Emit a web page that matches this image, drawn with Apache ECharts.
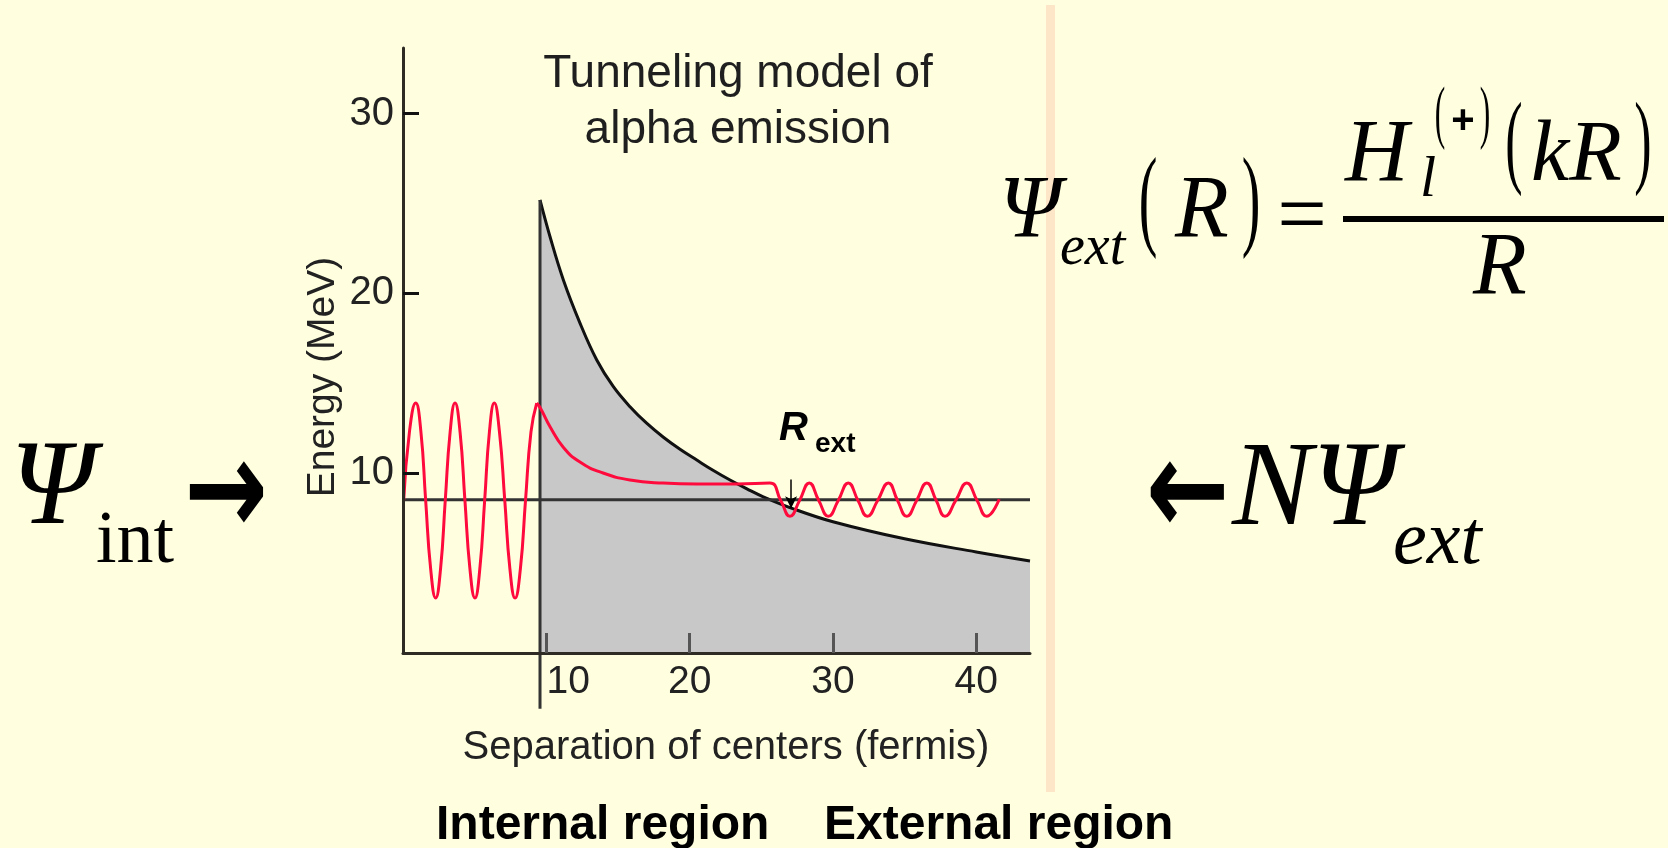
<!DOCTYPE html>
<html>
<head>
<meta charset="utf-8">
<script src="https://cdn.jsdelivr.net/npm/echarts@6/dist/echarts.min.js"></script>
<style>
html,body{margin:0;padding:0;background:#FFFFE0;}
#chart{width:1668px;height:848px;}
</style>
</head>
<body>
<div id="chart"></div>
<script>
// ---- data ----
const xTickValues = [10, 20, 30, 40];
const yTickValues = [10, 20, 30];
const energyLevel = 8.52;          // MeV, horizontal line
const nuclearRadius = 9.56;        // fermis, vertical line
const barrierTop = 25.2;
const rExt = 27.08;                // arrow position
const barrierR = [9.56, 10.26, 11.19, 12.35, 13.52, 14.68, 15.84, 17.0, 18.17, 19.33, 20.5, 21.66, 22.82, 24.0, 25.14, 27.24, 30.0, 35.0, 40.0, 43.75];
const barrierV = [25.2, 23.15, 20.75, 18.35, 16.3, 14.81, 13.7, 12.78, 12.0, 11.33, 10.73, 10.15, 9.62, 9.13, 8.69, 8.02, 7.3, 6.35, 5.62, 5.12];
const internalR = [0.05, 0.45, 0.89, 1.25, 1.58, 1.93, 2.28, 2.62, 2.95, 3.29, 3.63, 3.98, 4.32, 4.67, 5.02, 5.36, 5.7, 6.03, 6.37, 6.73, 7.1, 7.46, 7.82, 8.19, 8.55, 8.93, 9.33];
const internalPsi = [8.5, 12.3, 13.9, 12.3, 8.5, 4.68, 3.06, 4.68, 8.5, 12.3, 13.9, 12.3, 8.5, 4.68, 3.06, 4.68, 8.5, 12.3, 13.9, 12.3, 8.5, 4.68, 3.06, 4.68, 8.5, 12.3, 13.9];
const externalR = [9.33, 9.6, 10.26, 11.17, 12.35, 13.96, 15.84, 18.14, 20.52, 23.3, 25.6, 26.35, 27.0, 27.68, 28.35, 29.0, 29.68, 30.38, 31.07, 31.74, 32.4, 33.13, 33.87, 34.5, 35.15, 35.85, 36.55, 37.2, 37.82, 38.58, 39.34, 40.05, 40.73, 41.6];
const externalPsi = [13.9, 13.6, 12.59, 11.46, 10.62, 10.01, 9.62, 9.45, 9.4, 9.4, 9.45, 8.5, 7.6, 8.5, 9.46, 8.5, 7.6, 8.5, 9.46, 8.5, 7.6, 8.5, 9.46, 8.5, 7.6, 8.5, 9.46, 8.5, 7.6, 8.5, 9.46, 8.5, 7.6, 8.55];

const zip = (a, b) => a.map((v, i) => [v, b[i]]);

const chart = echarts.init(document.getElementById('chart'), null, {renderer: 'canvas'});
const SANS = 'Liberation Sans, Arial, sans-serif';
const SERIF = 'Liberation Serif, Times New Roman, serif';
const RED = '#FF0A3C';

function txt(text, x, y, size, opts) {
  opts = opts || {};
  return {
    type: 'text', x: x, y: y, z: 100,
    scaleX: opts.scaleX || 1, scaleY: opts.scaleY || 1,
    style: {
      text: text, fontSize: size,
      fontFamily: opts.family || SERIF,
      fontStyle: opts.italic ? 'italic' : 'normal',
      fontWeight: opts.bold ? 'bold' : 'normal',
      fill: opts.color || '#000',
      align: opts.align || 'left',
      verticalAlign: 'middle'
    }
  };
}

const option = {
  backgroundColor: '#FFFFE0',
  animation: false,
  title: {
    text: 'Tunneling model of\nalpha emission',
    left: 733, top: 41, textAlign: 'center',
    textStyle: {fontFamily: SANS, fontSize: 46, fontWeight: 'normal', color: '#1f1f1f', lineHeight: 56}
  },
  grid: {left: 403, top: 48, right: 638, bottom: 195, containLabel: false, outerBoundsMode: 'none'},
  xAxis: {
    type: 'value', min: 0, max: 43.75, interval: 10, z: 10,
    name: 'Separation of centers (fermis)', nameLocation: 'middle', nameGap: 75,
    nameTextStyle: {fontFamily: SANS, fontSize: 40, color: '#222', padding: [0, 0, 0, 19]},
    axisLine: {show: true, onZero: false, lineStyle: {color: '#2e2a24', width: 3}},
    axisTick: {show: true, inside: true, length: 20, customValues: xTickValues, lineStyle: {color: '#555', width: 3}},
    axisLabel: {
      customValues: xTickValues, margin: 10, fontFamily: SANS, fontSize: 39, color: '#222',
      formatter: v => (v === 10 ? '{s|10}' : String(v)),
      rich: {s: {padding: [0, 0, 0, 44], fontFamily: SANS, fontSize: 39, color: '#222'}}
    },
    splitLine: {show: false}
  },
  yAxis: {
    type: 'value', min: 0, max: 33.65, interval: 10, z: 10,
    name: 'Energy (MeV)', nameLocation: 'middle', nameRotate: 90, nameGap: 60,
    nameTextStyle: {fontFamily: SANS, fontSize: 39, color: '#222', padding: [0, 53, 0, 0]},
    axisLine: {show: true, onZero: false, lineStyle: {color: '#2e2a24', width: 3}},
    axisTick: {show: true, inside: true, length: 16, customValues: yTickValues, lineStyle: {color: '#111', width: 3}},
    axisLabel: {customValues: yTickValues, margin: 9, fontFamily: SANS, fontSize: 40, color: '#222'},
    splitLine: {show: false}
  },
  series: [
    {
      name: 'Coulomb barrier', type: 'line', data: zip(barrierR, barrierV),
      smooth: 0.4, symbol: 'none', z: 2,
      lineStyle: {color: '#111', width: 3},
      areaStyle: {color: '#C8C8C8', opacity: 1, origin: 'start'}
    },
    {
      name: 'Energy', type: 'line', data: [[0, energyLevel], [43.75, energyLevel]],
      symbol: 'none', z: 3, lineStyle: {color: '#333', width: 3},
      markLine: {
        silent: true, symbol: ['none', 'arrow'], symbolSize: [9, 12],
        label: {show: false},
        lineStyle: {color: '#000', width: 1.5, type: 'solid'},
        data: [[{coord: [rExt, 9.65]}, {coord: [rExt, 8.05]}]]
      }
    },
    {
      name: 'Nuclear radius', type: 'line', data: [[nuclearRadius, -3.1], [nuclearRadius, barrierTop]],
      symbol: 'none', clip: false, z: 4, lineStyle: {color: '#333', width: 3}
    },
    {
      name: 'Psi internal', type: 'line', data: zip(internalR, internalPsi),
      smooth: 0.5, symbol: 'none', z: 5, lineStyle: {color: RED, width: 3}
    },
    {
      name: 'Psi external', type: 'line', data: zip(externalR, externalPsi),
      smooth: 0.5, symbol: 'none', z: 5, lineStyle: {color: RED, width: 3}
    }
  ],
  graphic: [
    {type: 'rect', z: -1, shape: {x: 1046, y: 5, width: 9, height: 787}, style: {fill: '#FDE6C8'}},
    // R_ext label
    txt('R', 779, 429, 40, {family: SANS, italic: true, bold: true}),
    txt('ext', 815, 444, 28, {family: SANS, bold: true}),
    // left: Psi_int ->
    txt('Ψ', 10, 491, 120, {italic: true}),
    txt('int', 96, 543, 74),
    txt('→', 226, 499, 100, {family: 'DejaVu Sans', bold: true, align: 'center', scaleY: 1.35}),
    // right: <- N Psi_ext
    txt('←', 1188, 499, 100, {family: 'DejaVu Sans', bold: true, align: 'center', scaleY: 1.35}),
    txt('NΨ', 1232, 492, 120, {italic: true}),
    txt('ext', 1393, 543, 76, {italic: true}),
    // formula
    txt('Ψ', 999, 213, 88, {italic: true}),
    txt('ext', 1060, 249, 56, {italic: true}),
    txt('(', 1148, 206, 112, {align: 'center', scaleX: 0.5}),
    txt('R', 1175, 213, 88, {italic: true}),
    txt(')', 1251, 206, 112, {align: 'center', scaleX: 0.5}),
    txt('=', 1302, 220, 88, {align: 'center'}),
    {type: 'line', z: 100, shape: {x1: 1343, y1: 219, x2: 1664, y2: 219}, style: {stroke: '#000', lineWidth: 6}},
    txt('H', 1345, 157, 88, {italic: true}),
    txt('l', 1420, 181, 58, {italic: true}),
    txt('(', 1440, 117, 70, {align: 'center', scaleX: 0.45}),
    txt('+', 1463, 122, 40, {align: 'center', bold: true, family: SANS}),
    txt(')', 1485, 117, 70, {align: 'center', scaleX: 0.45}),
    txt('(', 1514, 147, 104, {align: 'center', scaleX: 0.5}),
    txt('kR', 1531, 157, 86, {italic: true}),
    txt(')', 1643, 147, 104, {align: 'center', scaleX: 0.5}),
    txt('R', 1500, 270, 88, {italic: true, align: 'center'}),
    // bottom labels
    txt('Internal region', 436, 826, 48, {family: SANS, bold: true}),
    txt('External region', 824, 826, 48, {family: SANS, bold: true})
  ]
};
chart.setOption(option);
</script>
</body>
</html>
